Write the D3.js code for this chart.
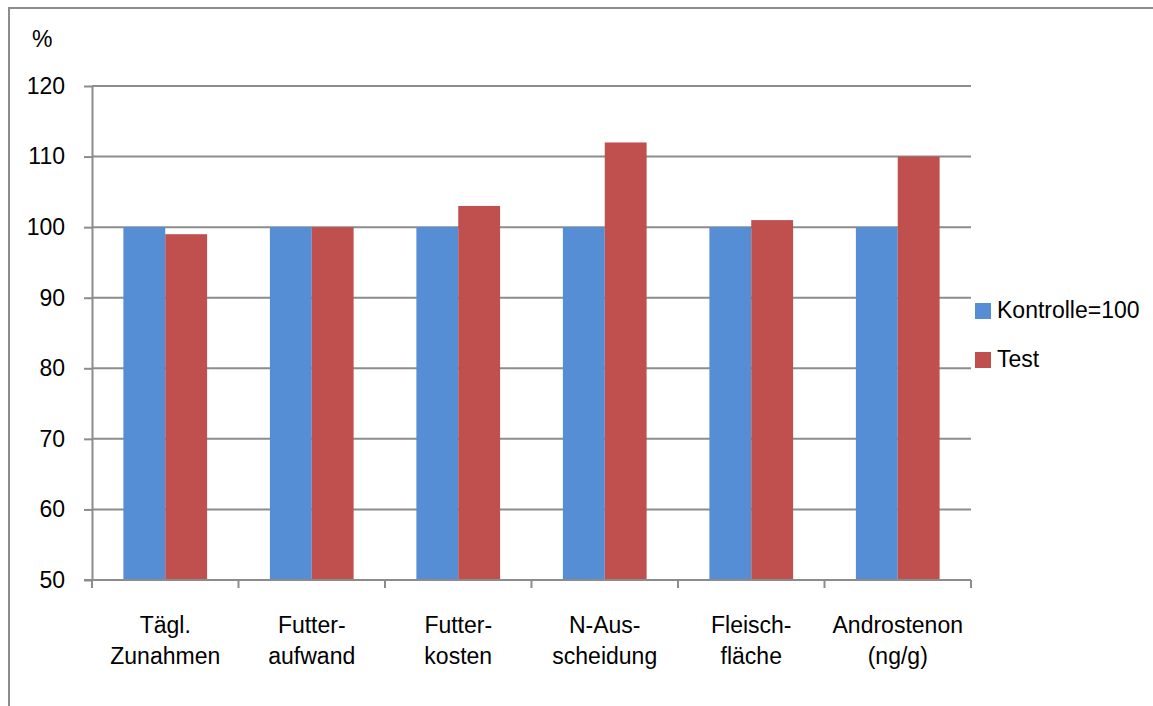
<!DOCTYPE html>
<html>
<head>
<meta charset="utf-8">
<script src="https://cdn.jsdelivr.net/npm/d3@7"></script>
<style>
  html, body { margin: 0; padding: 0; background: #fff; }
  svg { display: block; }
  text { font-family: "Liberation Sans", Arial, sans-serif; fill: #000; }
</style>
</head>
<body>
<svg id="chart" width="1153" height="706"></svg>
<script>
// Kategorien (zweizeilige Beschriftung)
const categories = [
  ["Tägl.", "Zunahmen"],
  ["Futter-", "aufwand"],
  ["Futter-", "kosten"],
  ["N-Aus-", "scheidung"],
  ["Fleisch-", "fläche"],
  ["Androstenon", "(ng/g)"]
];
const seriesNames = ["Kontrolle=100", "Test"];
const kontrolle = [100, 100, 100, 100, 100, 100];
const test = [99, 100, 103, 112, 101, 110];
const yTicks = [50, 60, 70, 80, 90, 100, 110, 120];
const colors = ["#558ed5", "#c0504d"];

const FS = 23;
const svg = d3.select("#chart");
const W = 1153, H = 706;

// Rahmen des Diagrammbereichs
svg.append("path")
  .attr("d", `M9,${H} L9,8 L${W},8`)
  .attr("fill", "none")
  .attr("stroke", "#8c8c8c")
  .attr("stroke-width", 2);

const plot = { left: 92, right: 971, top: 86, bottom: 580 };

// Kategorienbänder (Ticks an den Bandgrenzen)
const xCat = d3.scaleBand()
  .domain(d3.range(categories.length))
  .range([plot.left, plot.right]);

const y = d3.scaleLinear().domain([50, 120]).range([plot.bottom, plot.top]);

// Gitternetzlinien
svg.append("g")
  .selectAll("line")
  .data(yTicks.slice(1))
  .join("line")
  .attr("x1", plot.left).attr("x2", plot.right)
  .attr("y1", d => y(d)).attr("y2", d => y(d))
  .attr("stroke", "#8c8c8c").attr("stroke-width", 2);

// Balken (Abstandsbreite 150 %)
const groupW = xCat.bandwidth();
const barW = groupW / 3.5;
const data = categories.map((c, i) => ({ i, values: [kontrolle[i], test[i]] }));
const groups = svg.append("g").selectAll("g")
  .data(data).join("g");
groups.selectAll("rect")
  .data(d => d.values.map((v, s) => ({ i: d.i, s, v })))
  .join("rect")
  .attr("x", d => xCat(d.i) + groupW / 2 - barW + d.s * barW)
  .attr("width", barW)
  .attr("y", d => y(d.v))
  .attr("height", d => y(50) - y(d.v))
  .attr("fill", d => colors[d.s]);

// Y-Achse
const yAxis = svg.append("g")
  .attr("transform", `translate(${plot.left},0)`)
  .call(d3.axisLeft(y).tickValues(yTicks).tickSize(8).tickSizeOuter(0));
yAxis.select(".domain").attr("stroke", "#8c8c8c").attr("stroke-width", 2);
yAxis.selectAll(".tick line").attr("stroke", "#8c8c8c").attr("stroke-width", 2);
yAxis.selectAll(".tick text")
  .attr("font-size", FS)
  .attr("font-family", "Liberation Sans, Arial, sans-serif")
  .attr("fill", "#000")
  .attr("x", -27);

// X-Achse
const xAxisG = svg.append("g")
  .attr("transform", `translate(0,${plot.bottom})`);
xAxisG.append("line")
  .attr("x1", plot.left - 8).attr("x2", plot.right)
  .attr("stroke", "#8c8c8c").attr("stroke-width", 2);
const tickXs = d3.range(categories.length).map(i => xCat(i)).concat([plot.right]);
xAxisG.selectAll(".xt")
  .data(tickXs).join("line")
  .attr("class", "xt")
  .attr("x1", d => d).attr("x2", d => d)
  .attr("y1", 0).attr("y2", 8)
  .attr("stroke", "#8c8c8c").attr("stroke-width", 2);

const labels = svg.append("g").selectAll("text")
  .data(categories).join("text")
  .attr("text-anchor", "middle")
  .attr("font-size", FS)
  .attr("x", (d, i) => xCat(i) + groupW / 2)
  .attr("y", 633);
labels.selectAll("tspan")
  .data(d => d).join("tspan")
  .attr("x", function () { return d3.select(this.parentNode).attr("x"); })
  .attr("dy", (d, k) => k === 0 ? 0 : 31)
  .text(d => d);

// Achsentitel
svg.append("text")
  .attr("x", 32).attr("y", 47)
  .attr("font-size", FS)
  .text("%");

// Legende
const legend = svg.append("g").selectAll("g")
  .data(seriesNames).join("g")
  .attr("transform", (d, i) => `translate(975,${303 + i * 49})`);
legend.append("rect")
  .attr("width", 16).attr("height", 16)
  .attr("fill", (d, i) => colors[i]);
legend.append("text")
  .attr("x", 22).attr("y", 15)
  .attr("font-size", FS)
  .text(d => d);
</script>
</body>
</html>
